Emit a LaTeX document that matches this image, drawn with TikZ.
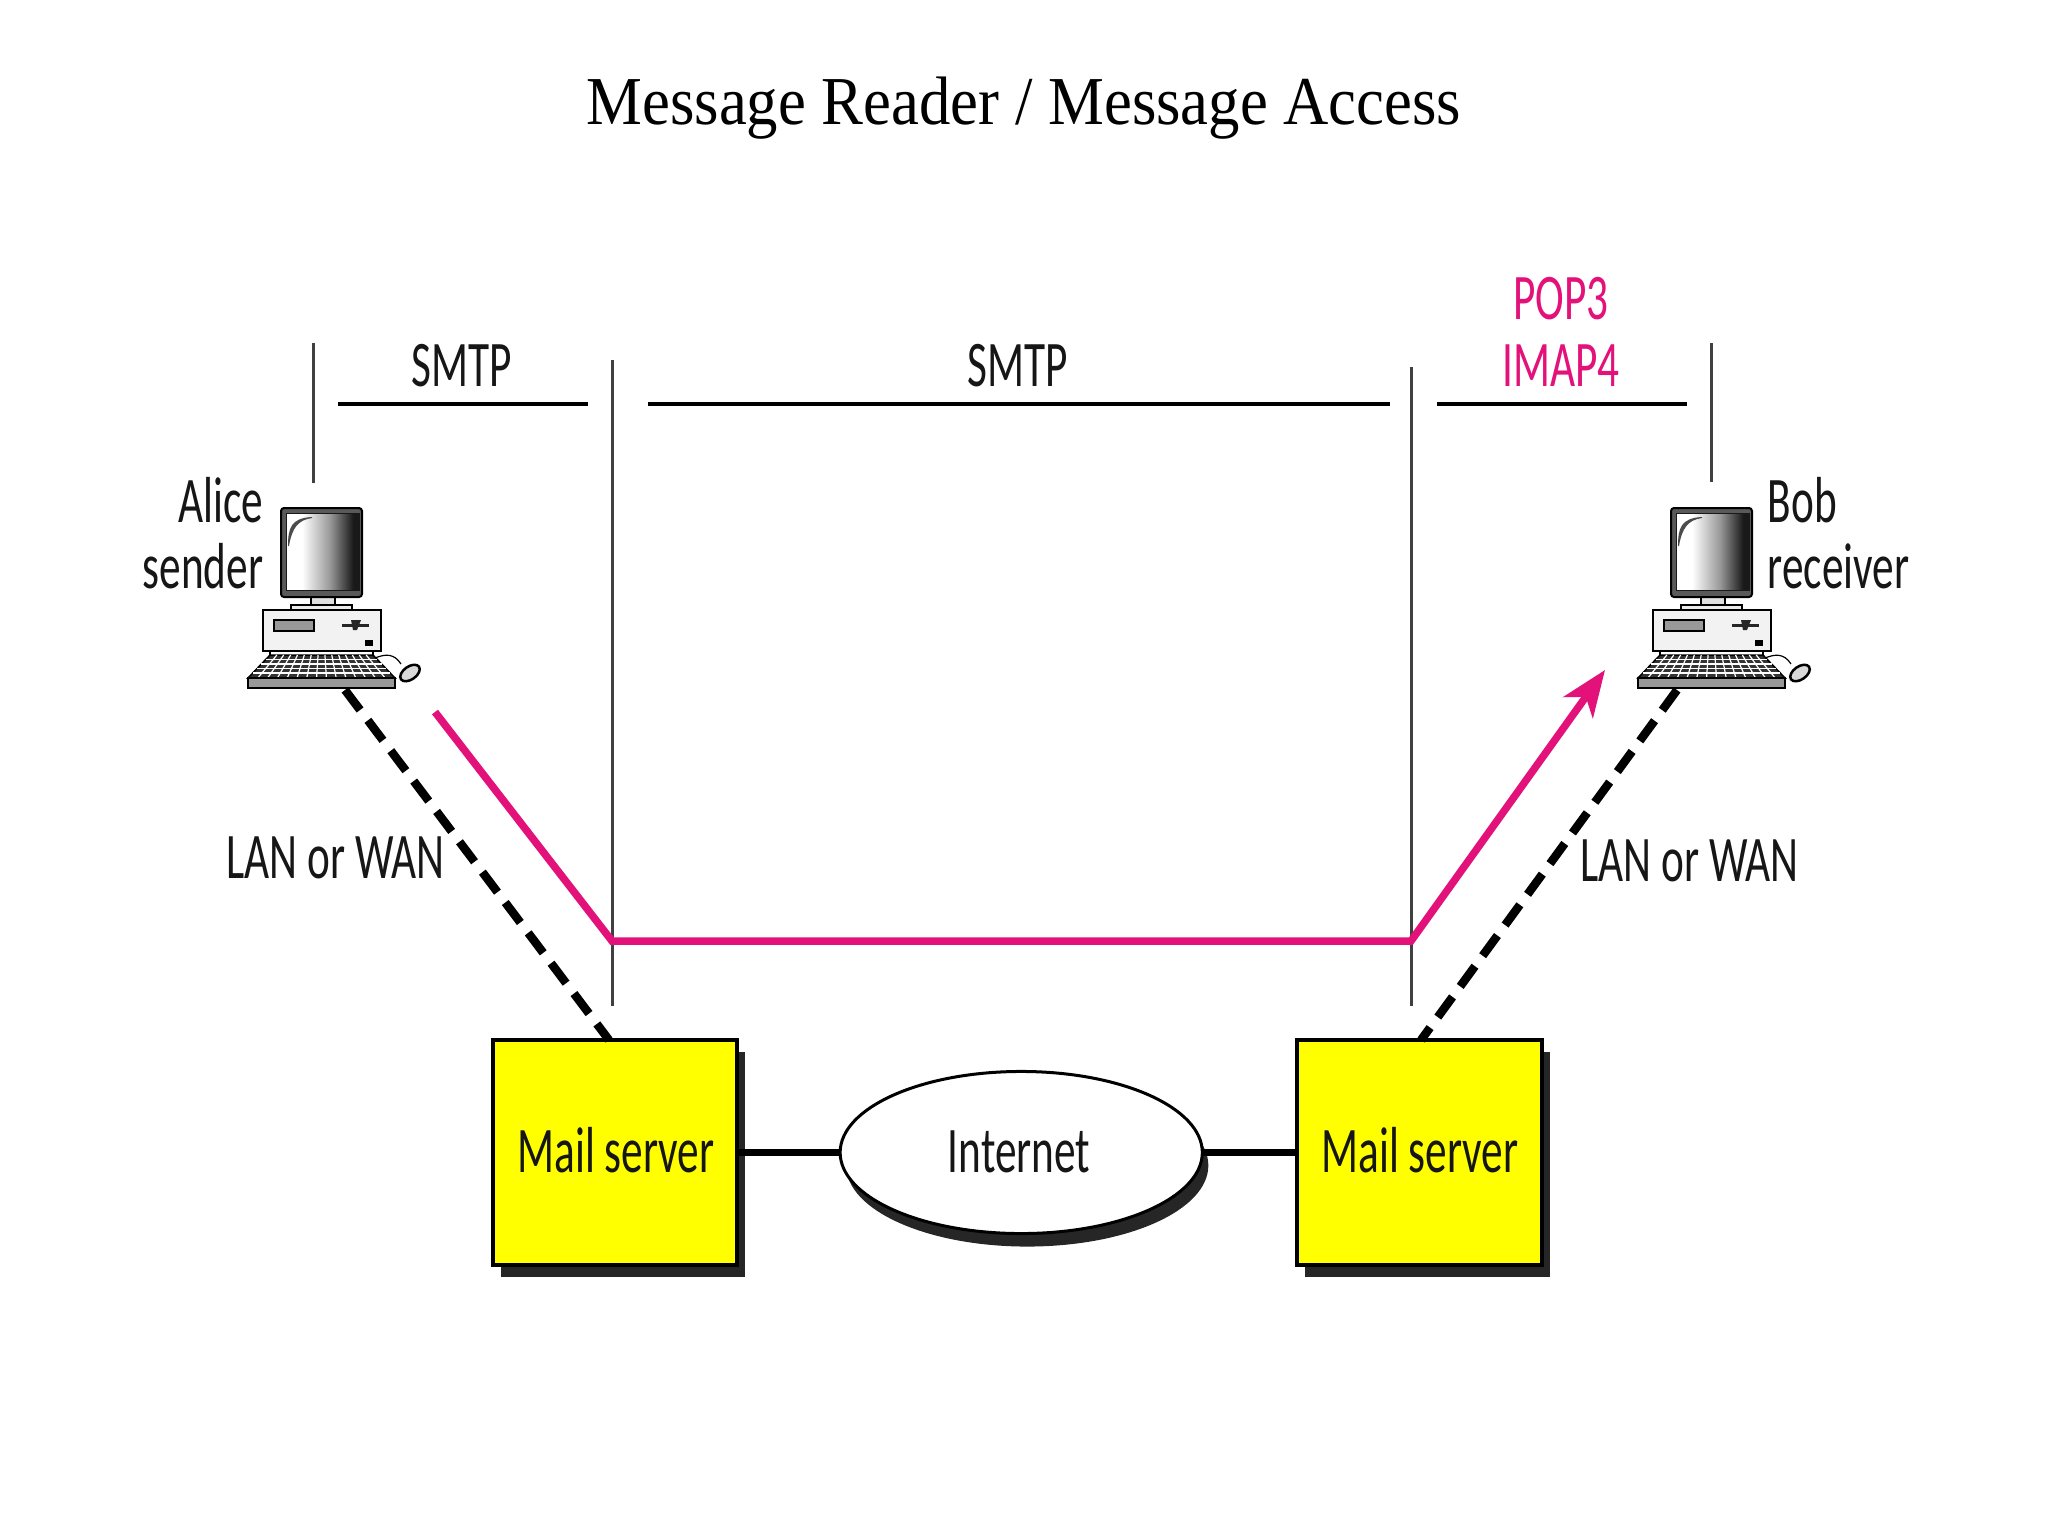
\documentclass[tikz,border=0pt]{standalone}
\usepackage{xcolor}
\usepackage{fontspec}
\usepackage{tikz}
\usetikzlibrary{positioning, arrows.meta, shapes.geometric, shadows}

\newfontfamily\labelfont[FakeStretch=0.665]{Carlito}
\newfontfamily\titlefont[FakeStretch=0.915]{Liberation Serif}
\definecolor{linkpink}{HTML}{E2127A}
\definecolor{inktext}{HTML}{161616}
\definecolor{boxyellow}{RGB}{255,255,0}
\pgfdeclarehorizontalshading{screenfade}{100bp}{color(0bp)=(white); color(36bp)=(white); color(55bp)=(black!40); color(71bp)=(black!90); color(100bp)=(black!90)}

\tikzset{
    labeltext/.style={font=\labelfont\fontsize{18.5}{20}\selectfont, text=inktext, inner sep=0},
    pinktext/.style={labeltext, text=linkpink},
    serverbox/.style={draw=black, line width=0.04cm, fill=boxyellow, minimum width=2.44cm, minimum height=2.25cm, outer sep=0,
        drop shadow={shadow xshift=0.08cm, shadow yshift=-0.12cm, fill=black!85, opacity=1}},
    netcloud/.style={ellipse, draw=black, line width=0.03cm, fill=white, minimum width=3.62cm, minimum height=1.62cm, outer sep=0, inner sep=0,
        drop shadow={shadow xshift=0.06cm, shadow yshift=-0.13cm, fill=black!85, opacity=1}},
    boundary/.style={draw=black!75, line width=0.03cm},
    hopline/.style={draw=black, line width=0.045cm},
    lanline/.style={draw=black, line width=0.085cm, dash pattern=on 0.25cm off 0.13cm},
    trunkline/.style={draw=black, line width=0.065cm},
    mailpath/.style={draw=linkpink, line width=0.075cm, line join=miter},
    computer/.pic={
        % stand and base
        \draw[black, line width=0.015cm, fill=black!12] (30,88) rectangle (54,98);
        \draw[black, line width=0.015cm, fill=black!8] (10,97) rectangle (71,103);
        % monitor
        \draw[black, line width=0.02cm, fill=black!65, rounded corners=0.03cm] (0,0) rectangle (81,89);
        \draw[black!90, line width=0.01cm, shading=screenfade] (5,5) rectangle (78,82);
        \fill[black!70] (7,38) .. controls (7,20) and (10,10) .. (31,9) -- (31,10) .. controls (17,12) and (11,20) .. (8,38) -- cycle;
        % case
        \draw[black, line width=0.02cm, fill=black!5] (-18,102) rectangle (100,143);
        \draw[black, line width=0.015cm, fill=black!40] (-7,112) rectangle (33,123);
        \fill[black!85] (61,115.5) rectangle (88,118.5);
        \fill[black!85] (70,112) -- (80,112) -- (76,122) -- (72,122) -- cycle;
        \fill[black] (84,132) rectangle (92,138);
        \draw[black, line width=0.015cm] (-11,143) -- (-11,148) (92,143) -- (92,148);
        % keyboard
        \draw[black, line width=0.015cm, fill=black!80] (-11,147) -- (92,147) -- (114,170) -- (-33,170) -- cycle;
        \foreach \row in {151.5, 156, 160.5, 165}
            \draw[white, line width=0.012cm] ({-11-22*(\row-147)/23},\row) -- ({92+22*(\row-147)/23},\row);
        \foreach \col in {1,...,14}
            \draw[white, line width=0.012cm] ({-11+\col*103/15},147) -- ({-33+\col*147/15},170);
        \draw[black, line width=0.02cm, fill=black!40] (-33,170) rectangle (114,180);
        % mouse
        \draw[black, line width=0.012cm] (94,150) .. controls (104,146) and (113,145) .. (120,156);
        \draw[black, line width=0.025cm, fill=black!15, rotate around={35:(129,165)}] (129,165) ellipse (0.11cm and 0.065cm);
    },
}

\begin{document}
\begin{tikzpicture}[x=0.01cm, y=-0.01cm]
    \useasboundingbox (0,0) rectangle (2048,1536);

    \node[font=\titlefont\fontsize{19.5}{22}\selectfont, text=black, inner sep=0, anchor=base] (title) at (1024,124) {Message Reader / Message Access};

    % servers and the net between them
    \node[serverbox] (serverA) at (615,1152.5) {};
    \node[netcloud, right=1.03cm of serverA] (net) {};
    \node[serverbox, right=0.95cm of net] (serverB) {};
    \node[labeltext, anchor=base] (serverAtext) at (616,1172) {Mail server};
    \node[labeltext, anchor=base] (serverBtext) at (1420,1172) {Mail server};
    \node[labeltext, anchor=base] (nettext) at (1019,1172) {Internet};
    \draw[trunkline] (serverA) -- (net);
    \draw[trunkline] (net) -- (serverB);

    % hosts
    \pic (alice) at (281,508) {computer};
    \pic (bob) at (1671,508) {computer};
    \node[labeltext, anchor=base east] (alicename) at (264,522) {Alice};
    \node[labeltext, anchor=base east] (alicerole) at (264,588) {sender};
    \node[labeltext, anchor=base west] (bobname) at (1767,522) {Bob};
    \node[labeltext, anchor=base west] (bobrole) at (1767,588) {receiver};

    % boundaries
    \coordinate (b1top) at (313,343);
    \coordinate (b1bot) at (313,483);
    \coordinate (b2top) at (612,360);
    \coordinate (b2bot) at (612,1006);
    \coordinate (b3top) at (1411,367);
    \coordinate (b3bot) at (1411,1006);
    \coordinate (b4top) at (1711,343);
    \coordinate (b4bot) at (1711,482);
    \draw[boundary] (b1top) -- (b1bot);
    \draw[boundary] (b2top) -- (b2bot);
    \draw[boundary] (b3top) -- (b3bot);
    \draw[boundary] (b4top) -- (b4bot);

    % protocol rows
    \coordinate (h1a) at (338,404);
    \coordinate (h1b) at (588,404);
    \coordinate (h2a) at (648,404);
    \coordinate (h2b) at (1390,404);
    \coordinate (h3a) at (1437,404);
    \coordinate (h3b) at (1687,404);
    \draw[hopline] (h1a) -- (h1b);
    \draw[hopline] (h2a) -- (h2b);
    \draw[hopline] (h3a) -- (h3b);
    \node[labeltext, anchor=base] (smtpA) at (462,386) {SMTP};
    \node[labeltext, anchor=base] (smtpB) at (1018,386) {SMTP};
    \node[pinktext, anchor=base] (pop) at (1561,319) {POP3};
    \node[pinktext, anchor=base] (imap) at (1561,386) {IMAP4};

    % access links
    \coordinate (aliceport) at (345,690);
    \coordinate (serverAport) at (609,1040);
    \coordinate (bobport) at (1677,690);
    \coordinate (serverBport) at (1421,1040);
    \draw[lanline] (aliceport) -- (serverAport);
    \draw[lanline] (bobport) -- (serverBport);
    \node[labeltext, anchor=base west] (lanA) at (226,878) {LAN or WAN};
    \node[labeltext, anchor=base west] (lanB) at (1580,881) {LAN or WAN};

    % message path
    \coordinate (start) at (435,712);
    \coordinate (bendA) at (612,941);
    \coordinate (bendB) at (1411,941);
    \coordinate (finish) at (1605,670);
    \draw[mailpath, -{Stealth[length=0.46cm, width=0.36cm, inset=0.13cm]}] (start) -- (bendA) -- (bendB) -- (finish);
\end{tikzpicture}
\end{document}
